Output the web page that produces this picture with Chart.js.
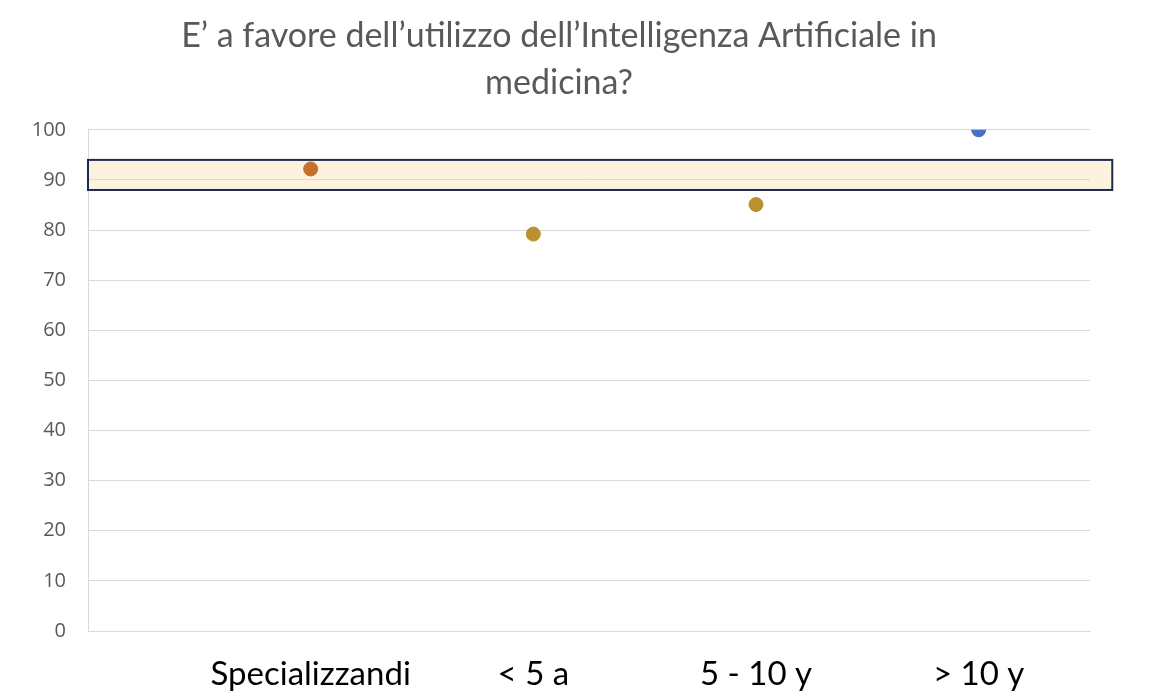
<!DOCTYPE html>
<html>
<head>
<meta charset="utf-8">
<script src="https://cdn.jsdelivr.net/npm/chart.js@4.4.1/dist/chart.umd.min.js"></script>
<style>
  html, body { margin: 0; padding: 0; background: #fff; }
  #wrap { width: 1164px; height: 692px; }
</style>
</head>
<body>
<div id="wrap"><canvas id="myChart" width="1164" height="692"></canvas></div>
<script>
const categories = ["Specializzandi", "< 5 a", "5 - 10 y", "> 10 y"];
const favorevoli = [92.2, 79.2, 85.1, 100];
const yTicks = [0, 10, 20, 30, 40, 50, 60, 70, 80, 90, 100];
// banda evidenziata (valori, non pixel)
const bandY = [88, 94];
const bandX = [0, 4.6];

const pointColors = ["#c5702e", "#bb9030", "#bb9030", "#4472c4"];

// rettangolo giallo dietro la griglia
const bandPlugin = {
  id: "band",
  beforeDraw(chart) {
    const { ctx, scales } = chart;
    const x0 = scales.x.getPixelForValue(bandX[0]);
    const x1 = scales.x.getPixelForValue(bandX[1]);
    const y0 = scales.y.getPixelForValue(bandY[1]);
    const y1 = scales.y.getPixelForValue(bandY[0]);
    ctx.save();
    ctx.fillStyle = "#fcf2de";
    ctx.fillRect(x0, y0, x1 - x0, y1 - y0);
    ctx.restore();
  },
  beforeDatasetsDraw(chart) {
    const { ctx, scales } = chart;
    const x0 = scales.x.getPixelForValue(bandX[0]);
    const x1 = scales.x.getPixelForValue(bandX[1]);
    const y0 = scales.y.getPixelForValue(bandY[1]);
    const y1 = scales.y.getPixelForValue(bandY[0]);
    ctx.save();
    ctx.strokeStyle = "#1e2b4f";
    ctx.lineWidth = 2;
    ctx.strokeRect(x0, y0, x1 - x0, y1 - y0);
    ctx.restore();
  }
};

new Chart("myChart", {
  type: "scatter",
  data: {
    datasets: [{
      data: categories.map((c, i) => ({ x: i + 1, y: favorevoli[i] })),
      backgroundColor: pointColors,
      borderColor: pointColors,
      pointRadius: 7,
      pointHoverRadius: 7
    }]
  },
  options: {
    responsive: false,
    animation: false,
    events: [],
    layout: { padding: { left: 28, right: 74, top: 0, bottom: 0 } },
    plugins: {
      legend: { display: false },
      tooltip: { enabled: false },
      title: {
        display: true,
        text: ["E’ a favore dell’utilizzo dell’Intelligenza Artificiale in", "medicina?"],
        color: "#595959",
        font: { family: "Lato", size: 34, weight: "normal", lineHeight: 1.38 },
        padding: { top: 13, bottom: 23 }
      }
    },
    scales: {
      x: {
        type: "linear",
        min: 0,
        max: 4.5,
        afterBuildTicks: s => { s.ticks = categories.map((c, i) => ({ value: i + 1 })); },
        afterFit: s => { s.height = 61; },
        grid: { display: false, drawTicks: false },
        border: { display: true, color: "#d9d9d9" },
        ticks: {
          color: "#000",
          font: { family: "Lato", size: 33 },
          padding: 24,
          maxRotation: 0,
          autoSkip: false,
          callback: v => categories[v - 1]
        }
      },
      y: {
        min: 0,
        max: 100,
        afterBuildTicks: s => { s.ticks = yTicks.map(v => ({ value: v })); },
        afterFit: s => { s.width = 60; },
        grid: { color: "#d9d9d9", drawTicks: false },
        border: { display: true, color: "#d9d9d9" },
        ticks: {
          color: "#595959",
          font: { family: "Open Sans", size: 20 },
          padding: 22
        }
      }
    }
  },
  plugins: [bandPlugin]
});
</script>
</body>
</html>
